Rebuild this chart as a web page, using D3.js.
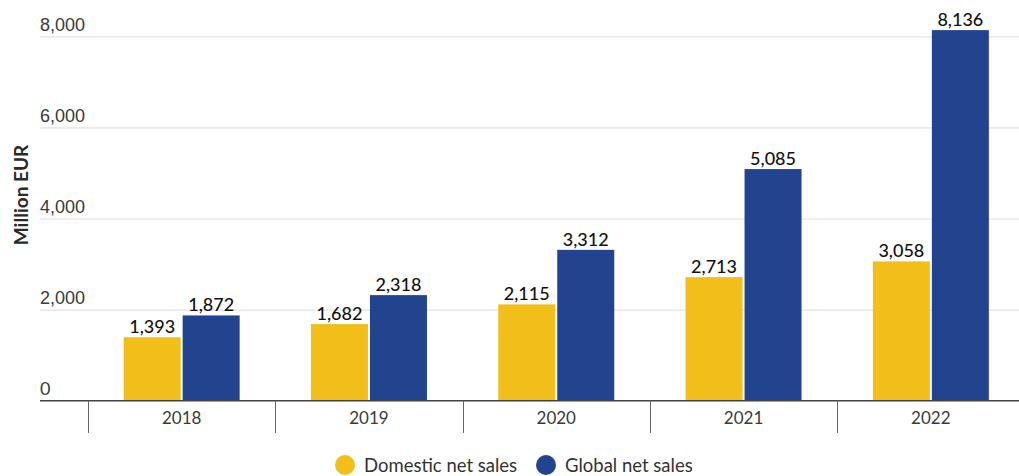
<!DOCTYPE html>
<html>
<head>
<meta charset="utf-8">
<script src="https://cdn.jsdelivr.net/npm/d3@7/dist/d3.min.js"></script>
<style>
  html, body { margin: 0; padding: 0; background: #fff; }
  svg { display: block; font-family: Lato, "Open Sans", sans-serif; }
</style>
</head>
<body>
<svg id="chart" width="1019" height="476"></svg>
<script>
// Net sales by year, million EUR
const years = ["2018", "2019", "2020", "2021", "2022"];
const domesticSales = [1393, 1682, 2115, 2713, 3058];
const globalSales = [1872, 2318, 3312, 5085, 8136];
const seriesNames = ["Domestic net sales", "Global net sales"];
const seriesColors = ["#F2BE1A", "#22438E"];
const yTicks = [0, 2000, 4000, 6000, 8000];

const series = [domesticSales, globalSales];
const rows = years.map((y, i) => ({ year: y, values: series.map(s => s[i]) }));

const svg = d3.select("#chart");
const gridLeft = 40, gridRight = 1019;

const x0 = d3.scaleBand().domain(years).range([88, 1024.5]).padding(0);
const half = 58;
const x1 = d3.scaleBand().domain(d3.range(series.length))
  .range([x0.bandwidth() / 2 - half, x0.bandwidth() / 2 + half])
  .paddingInner(2 / 59).paddingOuter(0);
const y = d3.scaleLinear().domain([0, 8000]).range([400.7, 36.3]);

const fmt = d3.format(",");

// horizontal gridlines and y tick labels
const yAxis = d3.axisRight(y).tickValues(yTicks.slice(1)).tickSize(gridRight - gridLeft).tickFormat(fmt);
const gy = svg.append("g").attr("transform", `translate(${gridLeft},0)`).call(yAxis);
gy.select(".domain").remove();
gy.selectAll(".tick line").attr("stroke", "#e2e2e2").attr("stroke-width", 1.2);
gy.selectAll(".tick text")
  .attr("x", 0).attr("dy", -6).attr("text-anchor", "start")
  .attr("fill", "#3a3a3a").attr("font-size", 18);
// zero label
svg.append("text").attr("x", gridLeft).attr("y", y(0) - 6)
  .attr("fill", "#3a3a3a").attr("font-size", 18).text(fmt(yTicks[0]));

// axis title
svg.append("text")
  .attr("transform", `translate(28,195) rotate(-90)`)
  .attr("text-anchor", "middle")
  .attr("font-size", 19).attr("font-weight", 700).attr("fill", "#2a2a2a")
  .text("Million EUR");

// bars
const groups = svg.append("g").selectAll("g").data(rows).join("g")
  .attr("transform", d => `translate(${x0(d.year)},0)`);

groups.selectAll("rect").data(d => d.values.map((v, k) => ({ v, k }))).join("rect")
  .attr("x", d => x1(d.k))
  .attr("width", x1.bandwidth())
  .attr("y", d => y(d.v))
  .attr("height", d => y(0) - y(d.v))
  .attr("fill", d => seriesColors[d.k]);

groups.selectAll("text.val").data(d => d.values.map((v, k) => ({ v, k }))).join("text")
  .attr("class", "val")
  .attr("x", d => x1(d.k) + x1.bandwidth() / 2)
  .attr("y", d => y(d.v) - 4)
  .attr("text-anchor", "middle")
  .attr("font-size", 18).attr("font-weight", 500).attr("fill", "#111")
  .text(d => fmt(d.v));

// x axis baseline
svg.append("line").attr("x1", gridLeft).attr("x2", gridRight)
  .attr("y1", y(0)).attr("y2", y(0))
  .attr("stroke", "#444").attr("stroke-width", 1.5);

// category dividers
svg.append("g").selectAll("line").data(years).join("line")
  .attr("x1", d => Math.round(x0(d)) + 0.5).attr("x2", d => Math.round(x0(d)) + 0.5)
  .attr("y1", y(0)).attr("y2", 433)
  .attr("stroke", "#666").attr("stroke-width", 1);

// year labels
svg.append("g").selectAll("text").data(years).join("text")
  .attr("x", d => x0(d) + x0.bandwidth() / 2)
  .attr("y", 424)
  .attr("text-anchor", "middle")
  .attr("font-size", 17).attr("fill", "#3a3a3a")
  .text(d => d);

// legend
const legendX = [345, 546];
const lg = svg.append("g").selectAll("g").data(seriesNames).join("g")
  .attr("transform", (d, i) => `translate(${legendX[i]},465)`);
lg.append("circle").attr("r", 10).attr("fill", (d, i) => seriesColors[i]);
lg.append("text").attr("x", 19).attr("y", 6.5)
  .attr("font-size", 18.5).attr("fill", "#333")
  .text(d => d);
</script>
</body>
</html>
